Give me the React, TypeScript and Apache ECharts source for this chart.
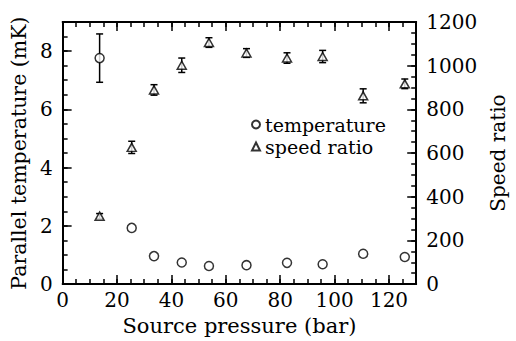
import React, { useEffect, useRef } from "react";
import * as echarts from "echarts";

const pressure = [13.6, 25.4, 33.6, 43.8, 53.8, 67.6, 82.5, 95.6, 110.5, 125.8];
const temperature = [7.76, 1.93, 0.96, 0.74, 0.62, 0.65, 0.73, 0.68, 1.04, 0.93];
const temperatureErr = [0.83, 0, 0, 0, 0, 0, 0, 0, 0, 0];
const speedRatio = [311, 626, 889, 1002, 1106, 1058, 1035, 1042, 862, 917];
const speedRatioErr = [12, 28, 24, 33, 22, 20, 24, 28, 32, 22];

const FONT = "DejaVu Serif";
const TICK_FS = 20;

function errRender(params: any, api: any) {
  const x = api.value(0);
  const y = api.value(1);
  const e = api.value(2);
  if (!e) return null;
  const t = api.coord([x, y + e]);
  const b = api.coord([x, y - e]);
  const st = { stroke: "#000", lineWidth: 1.5 };
  return {
    type: "group",
    children: [
      { type: "line", shape: { x1: t[0], y1: t[1], x2: b[0], y2: b[1] }, style: st },
      { type: "line", shape: { x1: t[0] - 3.5, y1: t[1], x2: t[0] + 3.5, y2: t[1] }, style: st },
      { type: "line", shape: { x1: b[0] - 3.5, y1: b[1], x2: b[0] + 3.5, y2: b[1] }, style: st },
    ],
  };
}

function xAxisDef(position: string, major: boolean, labels: boolean, name?: string) {
  return {
    type: "value",
    position,
    min: 0,
    max: 130,
    interval: major ? 20 : 5,
    name: name,
    nameLocation: "middle",
    nameGap: 29,
    nameTextStyle: { fontFamily: FONT, fontSize: 21, color: "#000" },
    axisLine: { show: major, onZero: false, lineStyle: { color: "#000", width: 2 } },
    axisTick: { show: true, inside: true, length: major ? 9 : 5, lineStyle: { color: "#000", width: 1.5 } },
    axisLabel: {
      show: labels,
      showMaxLabel: false,
      margin: 6,
      fontFamily: FONT,
      fontSize: TICK_FS,
      color: "#000",
      formatter: (v: number) => String(v),
    },
    splitLine: { show: false },
  };
}

function yAxisDef(
  position: string,
  max: number,
  interval: number,
  major: boolean,
  labels: boolean,
  name?: string,
  nameGap?: number,
  nameFs?: number
) {
  return {
    type: "value",
    position,
    min: 0,
    max,
    interval,
    name,
    nameLocation: "middle",
    nameGap: nameGap || 0,
    nameRotate: 90,
    nameTextStyle: { fontFamily: FONT, fontSize: nameFs || 20, color: "#000" },
    axisLine: { show: major, onZero: false, lineStyle: { color: "#000", width: 2 } },
    axisTick: { show: true, inside: true, length: major ? 9 : 5, lineStyle: { color: "#000", width: 1.5 } },
    axisLabel: {
      show: labels,
      showMaxLabel: max === 1200,
      margin: 10,
      fontFamily: FONT,
      fontSize: TICK_FS,
      color: "#000",
      formatter: (v: number) => String(v),
    },
    splitLine: { show: false },
  };
}

export default function App() {
  const ref = useRef<HTMLDivElement>(null);
  useEffect(() => {
    document.body.style.margin = "0";
    const chart = echarts.init(ref.current!, null, { renderer: "svg" });
    const tData = pressure.map((p, i) => [p, temperature[i], temperatureErr[i]]);
    const sData = pressure.map((p, i) => [p, speedRatio[i], speedRatioErr[i]]);
    chart.setOption({
      animation: false,
      backgroundColor: "#fff",
      grid: { left: 60, top: 22, right: 92, bottom: 48, containLabel: false },
      xAxis: [
        xAxisDef("bottom", true, true, "Source pressure (bar)"),
        xAxisDef("bottom", false, false),
        xAxisDef("top", true, false),
        xAxisDef("top", false, false),
      ],
      yAxis: [
        yAxisDef("left", 9, 2, true, true, "Parallel temperature (mK)", 28, 20.5),
        yAxisDef("left", 9, 0.5, false, false),
        yAxisDef("right", 1200, 200, true, true, "Speed ratio", 71, 20),
        yAxisDef("right", 1200, 50, false, false),
      ],
      legend: {
        left: 251,
        top: 115,
        orient: "vertical",
        padding: 0,
        itemGap: 3,
        itemWidth: 8,
        itemHeight: 8,
        textStyle: { fontFamily: FONT, fontSize: 19, lineHeight: 18, color: "#000" },
        data: ["temperature", "speed ratio"],
      },
      series: [
        {
          type: "custom",
          xAxisIndex: 0,
          yAxisIndex: 0,
          renderItem: errRender,
          data: tData,
          encode: { x: 0, y: 1 },
          z: 1,
          silent: true,
        },
        {
          type: "custom",
          xAxisIndex: 0,
          yAxisIndex: 2,
          renderItem: errRender,
          data: sData,
          encode: { x: 0, y: 1 },
          z: 1,
          silent: true,
        },
        {
          name: "temperature",
          type: "scatter",
          xAxisIndex: 0,
          yAxisIndex: 0,
          symbol: "circle",
          symbolSize: 9,
          itemStyle: { color: "#fff", borderColor: "#000", borderWidth: 1.5 },
          data: tData.map((d) => [d[0], d[1]]),
          z: 5,
        },
        {
          name: "speed ratio",
          type: "scatter",
          xAxisIndex: 0,
          yAxisIndex: 2,
          symbol: "triangle",
          symbolSize: [9, 8],
          itemStyle: { color: "#fff", borderColor: "#000", borderWidth: 1.5 },
          data: sData.map((d) => [d[0], d[1]]),
          z: 5,
        },
      ],
    });
    return () => chart.dispose();
  }, []);
  return <div ref={ref} style={{ width: 516, height: 341 }} />;
}
